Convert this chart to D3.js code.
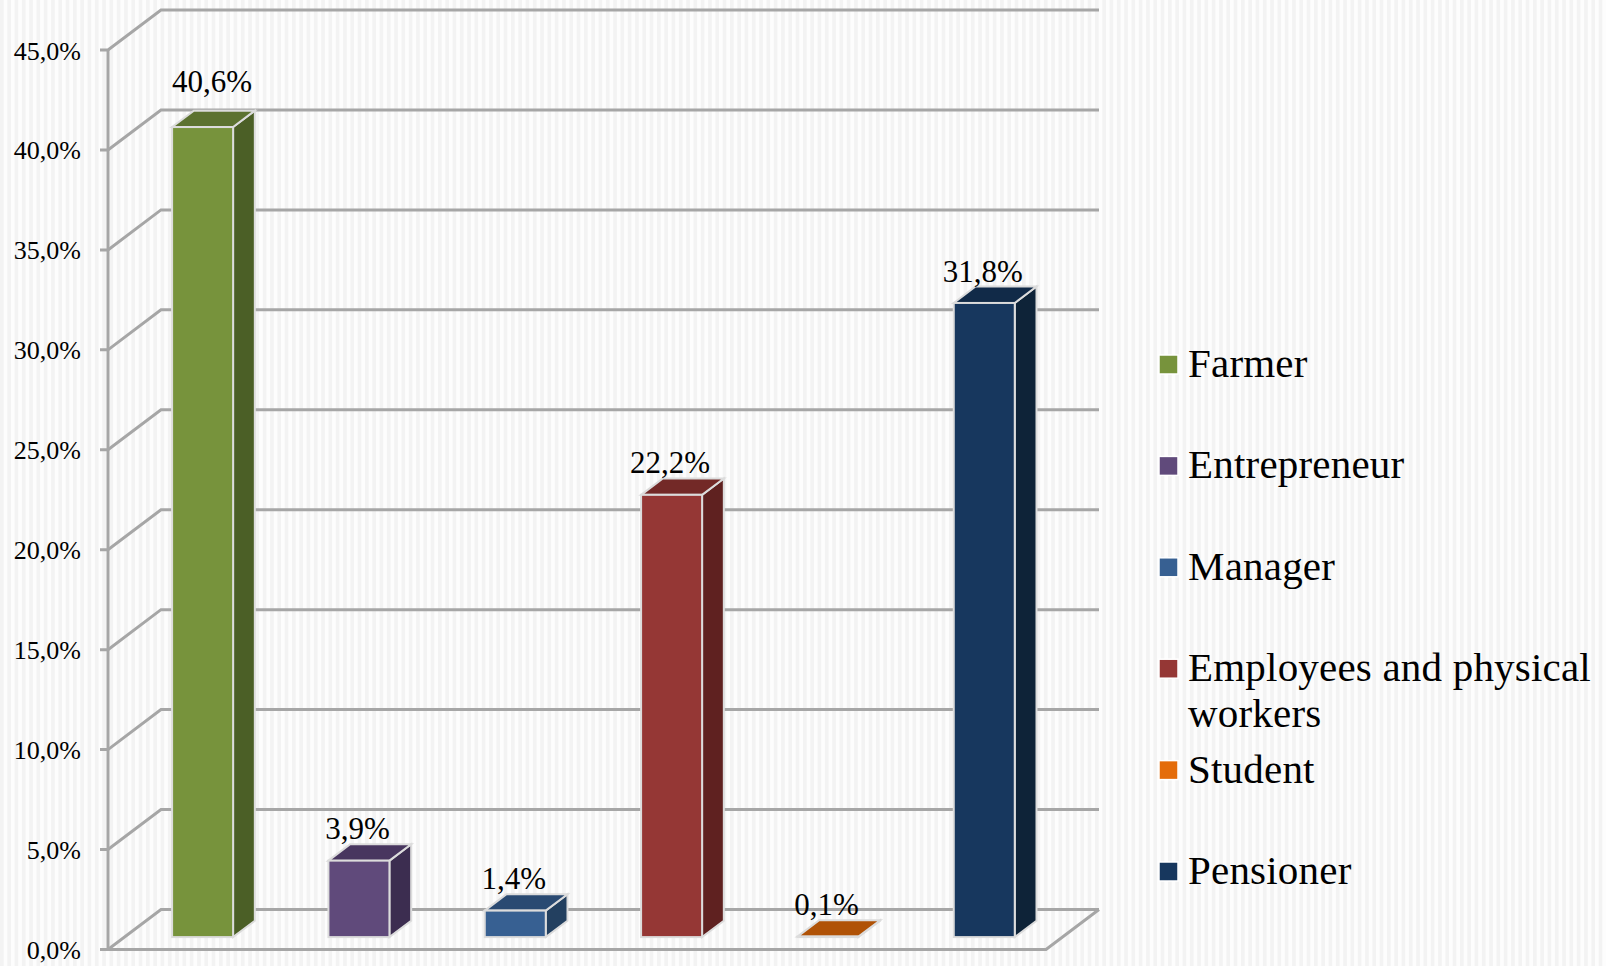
<!DOCTYPE html>
<meta charset="utf-8">
<style>
  body { margin: 0; background: #fff; }
  text { font-family: "Liberation Serif", serif; fill: #000; }
  .tick-label { font-size: 26px; text-anchor: end; }
  .value-label { font-size: 31px; text-anchor: middle; }
  .legend-label { font-size: 41px; letter-spacing: 0.2px; }
  .wall { fill: none; stroke: #a6a6a6; stroke-width: 3; }
</style>

<svg class="chart" width="1606" height="966"></svg>

<script src="https://d3js.org/d3.v7.min.js"></script>
<script>
  var categories = ["Farmer", "Entrepreneur", "Manager", "Employees and physical workers", "Student", "Pensioner"];
  var values = [40.6, 3.9, 1.4, 22.2, 0.1, 31.8];
  var valueLabels = ["40,6%", "3,9%", "1,4%", "22,2%", "0,1%", "31,8%"];
  var tickValues = [0, 5, 10, 15, 20, 25, 30, 35, 40, 45];
  var tickLabels = ["0,0%", "5,0%", "10,0%", "15,0%", "20,0%", "25,0%", "30,0%", "35,0%", "40,0%", "45,0%"];
  var frontColors = ["#77933c", "#604a7b", "#376092", "#953735", "#e46c0a", "#17375e"];
  var topColors = ["#5c7230", "#48365f", "#2a4a72", "#732927", "#b05206", "#112a48"];
  var sideColors = ["#4b5f26", "#3c2d50", "#234060", "#5f2120", "#954504", "#0e2338"];
  var legendLines = [["Farmer"], ["Entrepreneur"], ["Manager"], ["Employees and physical", "workers"], ["Student"], ["Pensioner"]];

  var svg = d3.select(".chart"),
      width = +svg.attr("width"),
      height = +svg.attr("height");

  // striped background
  var pattern = svg.append("defs").append("pattern")
      .attr("id", "stripes")
      .attr("patternUnits", "userSpaceOnUse")
      .attr("width", 7.3)
      .attr("height", 8);
  pattern.append("rect").attr("width", 7.3).attr("height", 8).attr("fill", "#fdfdfd");
  pattern.append("rect").attr("width", 3.6).attr("height", 8).attr("fill", "#f3f3f3");
  svg.append("rect")
      .attr("width", width)
      .attr("height", height)
      .attr("fill", "url(#stripes)");

  var x = d3.scaleBand().domain(categories).range([108, 1046]);
  var y = d3.scaleLinear().domain([0, 45]).range([949.5, 50]);

  // the oblique depth of the 3d box
  var depthX = 53, depthY = -40;
  var barWidth = 61, barNear = 0.31, barFar = 0.72, barInset = 1.5;

  var walls = svg.append("g").attr("class", "wall");

  walls.selectAll("path.grid")
    .data(tickValues)
    .enter().append("path")
      .attr("class", "grid")
      .attr("d", function (d) {
        return d3.line()([[100, y(d)], [108, y(d)], [108 + depthX, y(d) + depthY], [1099, y(d) + depthY]]);
      });

  walls.append("path")
      .attr("d", d3.line()([[108, y(45)], [108, y(0)], [1046, y(0)], [1099, y(0) + depthY]]));

  svg.selectAll("text.tick-label")
    .data(tickValues)
    .enter().append("text")
      .attr("class", "tick-label")
      .attr("x", 81)
      .attr("y", function (d) { return y(d) + 9.5; })
      .text(function (d, i) { return tickLabels[i]; });

  var bars = svg.selectAll("g.bar")
    .data(categories)
    .enter().append("g")
      .attr("class", "bar");

  function barLeft(i) {
    return x(categories[i]) + (x.bandwidth() - barWidth) / 2 + barNear * depthX;
  }
  function barBase(i) {
    return y(0) + barNear * depthY;
  }
  function barTop(i) {
    return barBase(i) - (y(0) - y(values[i])) + barInset;
  }
  var ox = (barFar - barNear) * depthX, oy = (barFar - barNear) * depthY;

  bars.append("path")
      .attr("fill", function (d, i) { return sideColors[i]; })
      .attr("stroke", "#dcdcdc")
      .attr("stroke-width", 2)
      .attr("d", function (d, i) {
        var r = barLeft(i) + barWidth;
        return d3.line()([[r, barTop(i)], [r + ox, barTop(i) + oy], [r + ox, barBase(i) + oy], [r, barBase(i)]]) + "Z";
      });

  bars.append("path")
      .attr("fill", function (d, i) { return topColors[i]; })
      .attr("stroke", "#dcdcdc")
      .attr("stroke-width", 2)
      .attr("d", function (d, i) {
        var l = barLeft(i), t = barTop(i);
        return d3.line()([[l, t], [l + ox, t + oy], [l + barWidth + ox, t + oy], [l + barWidth, t]]) + "Z";
      });

  bars.append("rect")
      .attr("fill", function (d, i) { return frontColors[i]; })
      .attr("stroke", "#dcdcdc")
      .attr("stroke-width", 2)
      .attr("x", function (d, i) { return barLeft(i); })
      .attr("y", function (d, i) { return barTop(i); })
      .attr("width", barWidth)
      .attr("height", function (d, i) { return barBase(i) - barTop(i); });

  // the first label sits higher and further right than the others
  function labelDx(i) { return i === 0 ? 40 : 29; }
  function labelDy(i) { return i === 0 ? -19 : -5; }

  svg.selectAll("text.value-label")
    .data(categories)
    .enter().append("text")
      .attr("class", "value-label")
      .attr("x", function (d, i) { return barLeft(i) + labelDx(i); })
      .attr("y", function (d, i) { return barTop(i) + oy + labelDy(i); })
      .text(function (d, i) { return valueLabels[i]; });

  // legend
  var legendY = d3.scalePoint().domain(categories).range([364, 871]);

  var legend = svg.selectAll("g.legend-item")
    .data(categories)
    .enter().append("g")
      .attr("class", "legend-item")
      .attr("transform", function (d) { return "translate(1158," + legendY(d) + ")"; });

  legend.append("rect")
      .attr("x", 1)
      .attr("y", -9)
      .attr("width", 19)
      .attr("height", 19)
      .attr("fill", function (d, i) { return frontColors[i]; })
      .attr("stroke", "#fff")
      .attr("stroke-width", 1.5);

  legend.each(function (d, i) {
    d3.select(this).selectAll("text")
      .data(legendLines[i])
      .enter().append("text")
        .attr("class", "legend-label")
        .attr("x", 30)
        .attr("y", function (line, j) { return 13 + j * 46; })
        .text(function (line) { return line; });
  });
</script>
